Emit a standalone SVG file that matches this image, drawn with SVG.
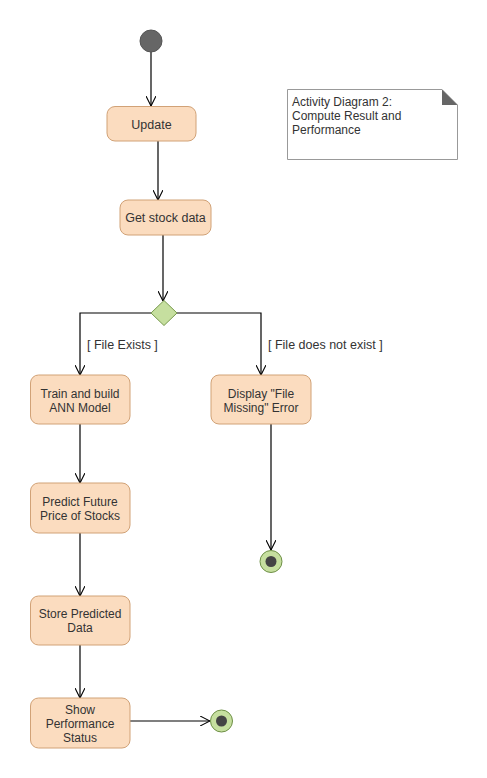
<svg xmlns="http://www.w3.org/2000/svg" width="487" height="778" viewBox="0 0 487 778">
<style>
.act{fill:#fbdcbf;stroke:#d1a277;stroke-width:1}
.t{font-family:"Liberation Sans",Arial,sans-serif;font-size:12.5px;fill:#333;text-anchor:middle}
.t2{font-family:"Liberation Sans",Arial,sans-serif;font-size:12px;fill:#333;text-anchor:middle}
.lbl{font-family:"Liberation Sans",Arial,sans-serif;font-size:12.5px;fill:#333}
.nt{font-family:"Liberation Sans",Arial,sans-serif;font-size:12px;fill:#333}
.c{fill:none;stroke:#000;stroke-width:1.2}
</style>
<defs>
<marker id="arr" viewBox="0 0 10 10" refX="10" refY="5" markerWidth="10" markerHeight="10" markerUnits="userSpaceOnUse" orient="auto">
<path d="M0,0 L10,5 L0,10" fill="none" stroke="#000" stroke-width="1.1"/>
</marker>
</defs>
<rect width="487" height="778" fill="#fff"/>
<g id="connectors">
<path class="c" d="M151,52 V106" marker-end="url(#arr)"/>
<path class="c" d="M158,141 V200" marker-end="url(#arr)"/>
<path class="c" d="M163,235 V301" marker-end="url(#arr)"/>
<path class="c" d="M151,313 H80 V375" marker-end="url(#arr)"/>
<path class="c" d="M177,313 H261 V375" marker-end="url(#arr)"/>
<path class="c" d="M80,424 V483" marker-end="url(#arr)"/>
<path class="c" d="M80,533 V596" marker-end="url(#arr)"/>
<path class="c" d="M80,645 V698" marker-end="url(#arr)"/>
<path class="c" d="M130,721 H210" marker-end="url(#arr)"/>
<path class="c" d="M271,424 V550" marker-end="url(#arr)"/>
<text class="lbl" x="87" y="349">[ File Exists ]</text>
<text class="lbl" x="268" y="349">[ File does not exist ]</text>
</g>
<g id="start"><circle cx="151" cy="41" r="11" fill="#666" stroke="#555"/></g>
<g id="note">
<path d="M287.5,89.5 H442 L457.5,105 V159.5 H287.5 Z" fill="#fff" stroke="#999"/>
<path d="M442,89.5 L457.5,105 H442 Z" fill="#666"/>
<text class="nt" x="292" y="106">Activity Diagram 2:</text>
<text class="nt" x="292" y="120">Compute Result and</text>
<text class="nt" x="292" y="134">Performance</text>
</g>
<g id="update"><rect class="act" x="107" y="106.5" width="89" height="34.5" rx="8"/><text class="t" x="151.5" y="128.5">Update</text></g>
<g id="getstock"><rect class="act" x="120" y="200" width="91" height="35" rx="8"/><text class="t" x="165.5" y="222">Get stock data</text></g>
<g id="decision"><path d="M164,300.5 L177,313 L164,325.5 L151,313 Z" fill="#c6df9f" stroke="#789a4d"/></g>
<g id="train"><rect class="act" x="30.5" y="375" width="99.5" height="49" rx="8"/><text class="t2" x="80" y="397.5">Train and build</text><text class="t2" x="80" y="411.5">ANN Model</text></g>
<g id="display"><rect class="act" x="211" y="375" width="100" height="49" rx="8"/><text class="t2" x="261" y="397.5">Display "File</text><text class="t2" x="261" y="411.5">Missing" Error</text></g>
<g id="predict"><rect class="act" x="30.5" y="483" width="99.5" height="50" rx="8"/><text class="t2" x="80" y="505.5">Predict Future</text><text class="t2" x="80" y="519.5">Price of Stocks</text></g>
<g id="store"><rect class="act" x="30.5" y="596" width="99.5" height="49" rx="8"/><text class="t2" x="80" y="618">Store Predicted</text><text class="t2" x="80" y="632">Data</text></g>
<g id="show"><rect class="act" x="30.5" y="698" width="99.5" height="50" rx="8"/><text class="t2" x="80" y="713.5">Show</text><text class="t2" x="80" y="727.5">Performance</text><text class="t2" x="80" y="741.5">Status</text></g>
<g id="final1"><circle cx="271" cy="561.5" r="11" fill="#c6df9f" stroke="#6d8f45"/><circle cx="271" cy="561.5" r="5.5" fill="#444"/></g>
<g id="final2"><circle cx="221.5" cy="721" r="11" fill="#c6df9f" stroke="#6d8f45"/><circle cx="221.5" cy="721" r="5.5" fill="#444"/></g>
</svg>
